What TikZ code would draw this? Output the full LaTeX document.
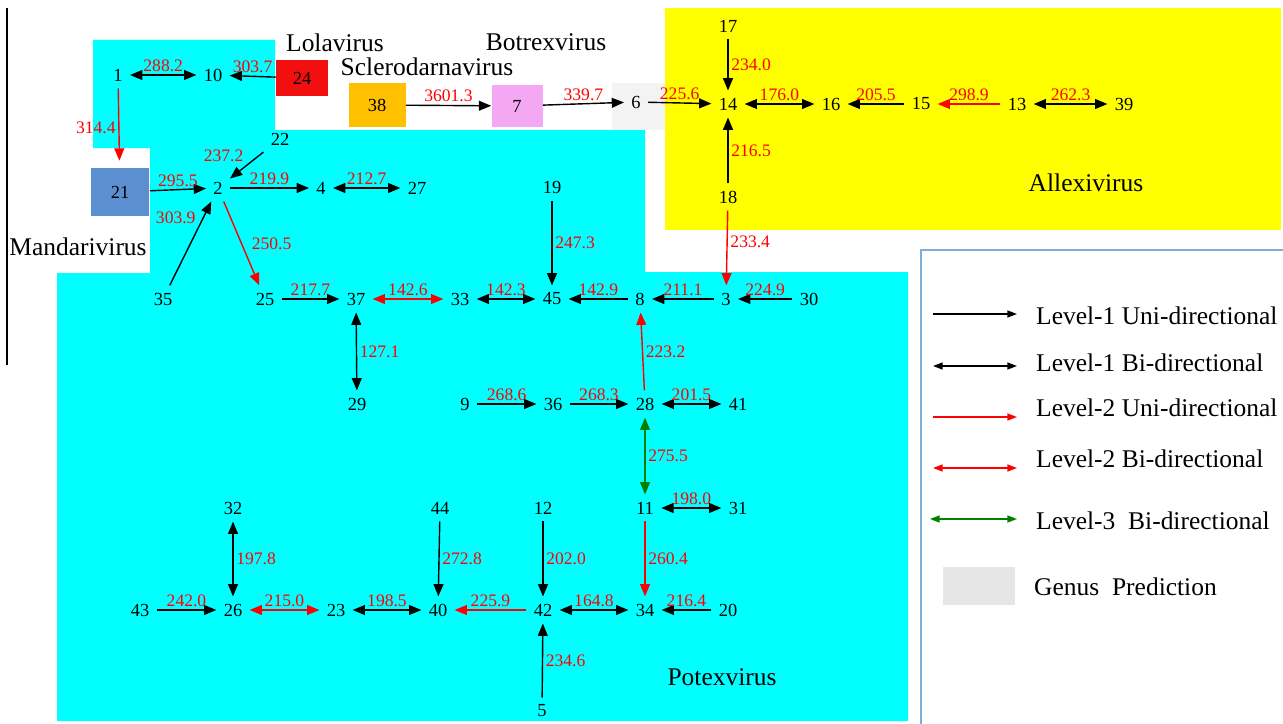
\documentclass[tikz,border=0pt]{standalone}
\usepackage{fontspec}
\setmainfont{Liberation Serif}
\usepackage{tikz}
\usetikzlibrary{arrows.meta}
\definecolor{cyanbg}{HTML}{00FFFF}
\definecolor{yellowbg}{HTML}{FFFF00}
\definecolor{genusgray}{HTML}{E6E6E6}
\definecolor{lolared}{HTML}{F20F0F}
\definecolor{scleroorange}{HTML}{FFC000}
\definecolor{botrexpink}{HTML}{F4A8F4}
\definecolor{mandablue}{HTML}{5B8FD0}
\definecolor{legendblue}{HTML}{7FAEDD}

\begin{document}
\begin{tikzpicture}[x=0.02cm, y=-0.02cm,
        num/.style={font=\fontsize{10.5}{12}\selectfont, inner sep=4pt},
        lab/.style={font=\fontsize{10}{12}\selectfont, text=red, inner sep=1.5pt},
        genus/.style={font=\fontsize{14.5}{17}\selectfont},
        box/.style={num},
        uni/.style={-{Triangle[length=7pt,width=5.6pt]}, line width=0.8pt},
        bi/.style={{Triangle[length=7pt,width=5.6pt]}-{Triangle[length=7pt,width=5.6pt]}, line width=0.8pt},
        keyuni/.style={-{Triangle[length=5.5pt,width=4pt]}, line width=0.8pt},
        keybi/.style={{Triangle[length=5.5pt,width=4pt]}-{Triangle[length=5.5pt,width=4pt]}, line width=0.8pt},
        lvtwo/.style={red},
        lvthree/.style={green!50!black}]
        \clip (0,0) rectangle (1283,723);

        % Genus areas
        \fill[cyanbg] (93,40) -- (275,40) -- (275,130) -- (645,130) -- (645,272) -- (908,272)
            -- (908,721) -- (57,721) -- (57,273) -- (150,273) -- (150,148) -- (93,148) -- cycle;
        \fill[yellowbg] (665,8) rectangle (1281,230);
        \fill[genusgray!50] (612,83) rectangle (665,130);
        \draw[line width=0.6pt] (7,8) -- (7,365);

        \node[genus] (lola) at (335,43) {Lolavirus};
        \node[genus] (botrex) at (546,42) {Botrexvirus};
        \node[genus] (sclero) at (427,67) {Sclerodarnavirus};
        \node[genus] (manda) at (78,247) {Mandarivirus};
        \node[genus] (allexi) at (1086,183) {Allexivirus};
        \node[genus] (potex) at (722,677) {Potexvirus};

        % Coloured genera
        \node[box, fill=lolared, minimum width=1.04cm, minimum height=0.74cm] (n24) at (302,78) {24};
        \node[box, fill=scleroorange, minimum width=1.14cm, minimum height=0.88cm] (n38) at (377,105) {38};
        \node[box, fill=botrexpink, minimum width=1.02cm, minimum height=0.86cm] (n7) at (517,106) {7};
        \node[box, fill=mandablue, minimum width=1.18cm, minimum height=0.96cm] (n21) at (120,192) {21};

        % Species
        \node[num] (n1) at (118,75) {1};
        \node[num] (n10) at (213,75) {10};
        \node[num] (n22) at (280,139) {22};
        \node[num] (n2) at (218,188) {2};
        \node[num] (n4) at (321,188) {4};
        \node[num] (n27) at (417,188) {27};
        \node[num] (n6) at (636,102) {6};
        \node[num] (n17) at (728,26) {17};
        \node[num] (n14) at (728,104) {14};
        \node[num] (n16) at (831,104) {16};
        \node[num] (n15) at (921,104) {15};
        \node[num] (n13) at (1017,104) {13};
        \node[num] (n39) at (1124,104) {39};
        \node[num] (n18) at (728,197) {18};
        \node[num] (n19) at (552,187) {19};
        \node[num] (n35) at (163,299) {35};
        \node[num] (n25) at (265,299) {25};
        \node[num] (n37) at (356,299) {37};
        \node[num] (n33) at (460,299) {33};
        \node[num] (n45) at (552,299) {45};
        \node[num] (n8) at (640,299) {8};
        \node[num] (n3) at (726,299) {3};
        \node[num] (n30) at (809,299) {30};
        \node[num] (n29) at (357,404) {29};
        \node[num] (n9) at (465,404) {9};
        \node[num] (n36) at (553,404) {36};
        \node[num] (n28) at (645,404) {28};
        \node[num] (n41) at (738,404) {41};
        \node[num] (n32) at (233,508) {32};
        \node[num] (n44) at (440,508) {44};
        \node[num] (n12) at (543,508) {12};
        \node[num] (n11) at (645,508) {11};
        \node[num] (n31) at (738,508) {31};
        \node[num] (n43) at (140,610) {43};
        \node[num] (n26) at (233,610) {26};
        \node[num] (n23) at (336,610) {23};
        \node[num] (n40) at (438,610) {40};
        \node[num] (n42) at (543,610) {42};
        \node[num] (n34) at (645,610) {34};
        \node[num] (n20) at (728,610) {20};
        \node[num] (n5) at (542,711) {5};

        % Top links
        \draw[bi] (n1) -- (n10) node[lab, midway, above] {288.2};
        \draw[uni] (n24) -- (n10) node[lab, midway, above] {303.7};
        \draw[uni, lvtwo, shorten >=4pt] (n1) -- (n21) node[lab, midway, left] {314.4};
        \draw[uni] (n38) -- (n7) node[lab, midway, above] {3601.3};
        \draw[uni] (n7) -- (n6) node[lab, midway, above] {339.7};
        \draw[uni] (n6) -- (n14) node[lab, midway, above] {225.6};
        \draw[uni] (n17) -- (n14) node[lab, midway, right] {234.0};
        \draw[uni] (n18) -- (n14) node[lab, midway, right] {216.5};
        \draw[bi] (n14) -- (n16) node[lab, midway, above] {176.0};
        \draw[uni] (n15) -- (n16) node[lab, midway, above] {205.5};
        \draw[uni, lvtwo] (n13) -- (n15) node[lab, midway, above] {298.9};
        \draw[bi] (n13) -- (n39) node[lab, midway, above] {262.3};

        % Left links
        \draw[uni] (n22) -- (n2) node[lab, midway, above left] {237.2};
        \draw[uni] (n21) -- (n2) node[lab, midway, above] {295.5};
        \draw[uni] (n2) -- (n4) node[lab, midway, above] {219.9};
        \draw[bi] (n4) -- (n27) node[lab, midway, above] {212.7};
        \draw[uni] (n35) -- (n2) node[lab, pos=0.7, above left] {303.9};
        \draw[uni, lvtwo] (n2) -- (n25) node[lab, midway, right, xshift=4pt] {250.5};

        % Middle row
        \draw[uni] (n25) -- (n37) node[lab, midway, above] {217.7};
        \draw[bi, lvtwo] (n37) -- (n33) node[lab, midway, above] {142.6};
        \draw[bi] (n33) -- (n45) node[lab, midway, above] {142.3};
        \draw[uni] (n19) -- (n45) node[lab, midway, right] {247.3};
        \draw[uni] (n8) -- (n45) node[lab, midway, above] {142.9};
        \draw[uni] (n3) -- (n8) node[lab, midway, above] {211.1};
        \draw[uni] (n30) -- (n3) node[lab, midway, above] {224.9};
        \draw[uni, lvtwo] (n18) -- (n3) node[lab, pos=0.42, right] {233.4};
        \draw[bi] (n37) -- (n29) node[lab, midway, right] {127.1};
        \draw[uni, lvtwo] (n28) -- (n8) node[lab, midway, right] {223.2};
        \draw[uni] (n9) -- (n36) node[lab, midway, above] {268.6};
        \draw[uni] (n36) -- (n28) node[lab, midway, above] {268.3};
        \draw[bi] (n28) -- (n41) node[lab, midway, above] {201.5};
        \draw[bi, lvthree] (n28) -- (n11) node[lab, midway, right] {275.5};

        % Bottom row
        \draw[bi] (n11) -- (n31) node[lab, midway, above] {198.0};
        \draw[uni, lvtwo] (n11) -- (n34) node[lab, midway, right] {260.4};
        \draw[uni] (n12) -- (n42) node[lab, midway, right] {202.0};
        \draw[uni] (n44) -- (n40) node[lab, midway, right] {272.8};
        \draw[bi] (n32) -- (n26) node[lab, midway, right] {197.8};
        \draw[uni] (n43) -- (n26) node[lab, midway, above] {242.0};
        \draw[bi, lvtwo] (n26) -- (n23) node[lab, midway, above] {215.0};
        \draw[bi] (n23) -- (n40) node[lab, midway, above] {198.5};
        \draw[uni, lvtwo] (n42) -- (n40) node[lab, midway, above] {225.9};
        \draw[bi] (n42) -- (n34) node[lab, midway, above] {164.8};
        \draw[uni] (n20) -- (n34) node[lab, midway, above] {216.4};
        \draw[uni] (n5) -- (n42) node[lab, midway, right] {234.6};

        % Legend
        \draw[legendblue, line width=1.1pt] (921,250) rectangle (1300,740);
        \coordinate (k1s) at (933,314); \coordinate (k1e) at (1017,314);
        \coordinate (k2s) at (933,366); \coordinate (k2e) at (1017,366);
        \coordinate (k3s) at (933,417); \coordinate (k3e) at (1017,417);
        \coordinate (k4s) at (933,468); \coordinate (k4e) at (1017,468);
        \coordinate (k5s) at (930,519); \coordinate (k5e) at (1017,519);
        \draw[keyuni] (k1s) -- (k1e);
        \draw[keybi] (k2s) -- (k2e);
        \draw[keyuni, lvtwo] (k3s) -- (k3e);
        \draw[keybi, lvtwo] (k4s) -- (k4e);
        \draw[keybi, lvthree] (k5s) -- (k5e);
        \fill[genusgray] (943,567) rectangle (1015,605);
        \node[genus, anchor=west] (k1) at (1030,316) {Level-1 Uni-directional};
        \node[genus, anchor=west] (k2) at (1030,363) {Level-1 Bi-directional};
        \node[genus, anchor=west] (k3) at (1030,408) {Level-2 Uni-directional};
        \node[genus, anchor=west] (k4) at (1030,459) {Level-2 Bi-directional};
        \node[genus, anchor=west] (k5) at (1030,521) {Level-3~ Bi-directional};
        \node[genus, anchor=west] (k6) at (1028,587) {Genus~ Prediction};
\end{tikzpicture}
\end{document}
